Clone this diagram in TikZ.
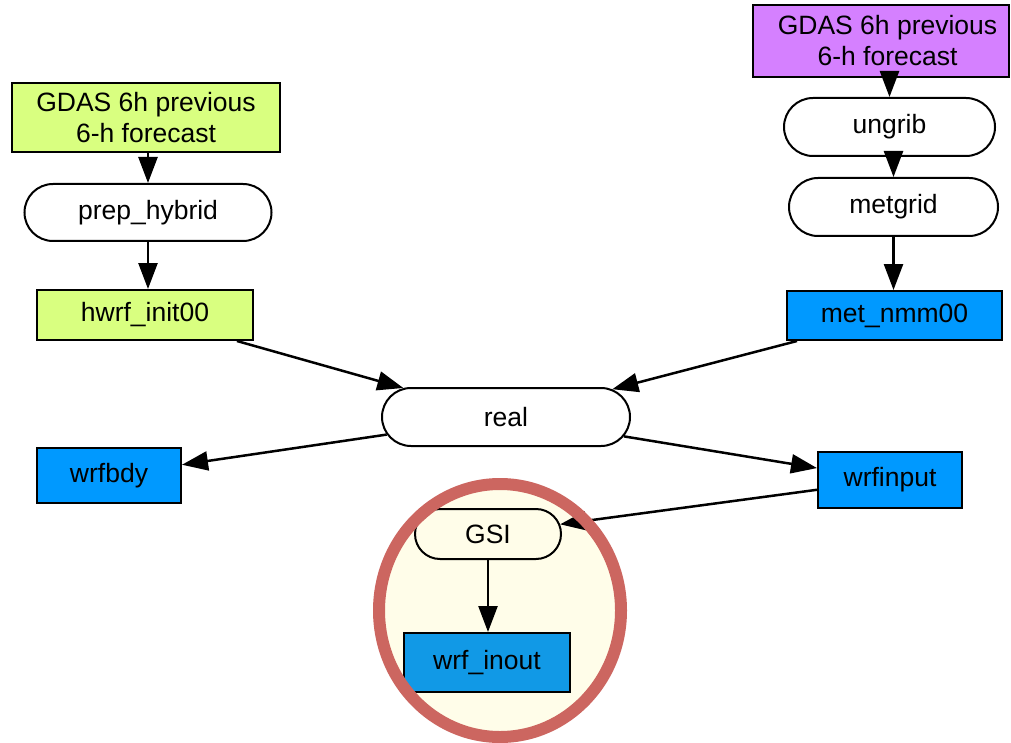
\documentclass[tikz,border=0pt]{standalone}
\usepackage{fontspec}
\setmainfont{Liberation Sans}
\usetikzlibrary{shapes.misc,arrows.meta}
\definecolor{limefill}{RGB}{217,255,128}
\definecolor{violetfill}{RGB}{213,128,255}
\definecolor{bluefill}{RGB}{0,153,255}
\definecolor{blueshade}{RGB}{17,153,230}
\definecolor{creamfill}{RGB}{255,253,233}
\definecolor{ringred}{RGB}{204,102,96}
\begin{document}
\begin{tikzpicture}[x=1pt,y=-1pt,
  lbl/.style={font=\fontsize{26.5}{31}\selectfont, inner sep=0pt},
  databox/.style={lbl, rectangle, draw=black, line width=2pt},
  taskbox/.style={lbl, rounded rectangle, draw=black, fill=white, line width=2pt},
  flow/.style={draw=black, line width=2.5pt, -{Triangle[length=26pt,width=19pt]}}]
\useasboundingbox (0,0) rectangle (1011,743);

% highlighted region behind the assimilation step
\fill[creamfill] (500,610.5) ellipse [x radius=121pt, y radius=126.5pt];

% left branch: GDAS input prepared by prep_hybrid
\node[databox, fill=limefill, minimum width=268pt, minimum height=69pt, align=center] (gdasL) at (146,117.5) {GDAS 6h previous\\6-h forecast};
\node[taskbox, minimum width=247pt, minimum height=57pt] (prep) at (148,212.5) {prep\_hybrid};
\node[databox, fill=limefill, minimum width=216pt, minimum height=50pt] (hwrf) at (145,315) {hwrf\_init00};

% right branch: WPS chain
\node[databox, fill=violetfill, minimum width=256pt, minimum height=72pt] (gdasR) at (881,41) {};
\node[lbl, align=center] (gdasRtext) at (887.5,41) {GDAS 6h previous\\6-h forecast};
\node[taskbox, minimum width=211pt, minimum height=58pt] (ungrib) at (889.5,127) {ungrib};
\node[taskbox, minimum width=209pt, minimum height=58pt] (metgrid) at (893.5,207) {metgrid};
\node[databox, fill=bluefill, minimum width=215pt, minimum height=49pt] (metnmm) at (894.5,315.5) {met\_nmm00};

% real and its outputs
\node[taskbox, minimum width=248pt, minimum height=58pt] (real) at (506,417) {real};
\node[databox, fill=bluefill, minimum width=144pt, minimum height=55pt] (wrfbdy) at (109,475.5) {wrfbdy};
\node[databox, fill=bluefill, minimum width=144pt, minimum height=56pt] (wrfinput) at (890,480) {wrfinput};

% data assimilation
\node[taskbox, fill=creamfill, minimum width=146pt, minimum height=50pt] (gsi) at (488,534) {GSI};
\node[databox, fill=blueshade, minimum width=166pt, minimum height=59pt] (wrfinout) at (487,662.5) {wrf\_inout};

% connectors
\draw[flow] (gdasL.south -| prep) -- (prep.north);
\draw[flow] (prep.south) -- (prep.south |- hwrf.north);
\draw[flow] (gdasR.south -| ungrib.north) -- (ungrib.north);
\draw[flow] (metgrid.north |- ungrib.south) -- (metgrid.north);
\draw[flow] (metgrid.south) -- (metgrid.south |- metnmm.north);
\draw[flow] (hwrf) -- (real);
\draw[flow] (metnmm) -- (real);
\draw[flow] (real) -- (wrfbdy);
\draw[flow] (real) -- (wrfinput);
\draw[flow] (wrfinput) -- (gsi);
\draw[flow] (gsi.south) -- (gsi.south |- wrfinout.north);

% ring around the assimilation step
\draw[ringred, line width=12pt] (500,610.5) ellipse [x radius=121pt, y radius=126.5pt];
\end{tikzpicture}
\end{document}
